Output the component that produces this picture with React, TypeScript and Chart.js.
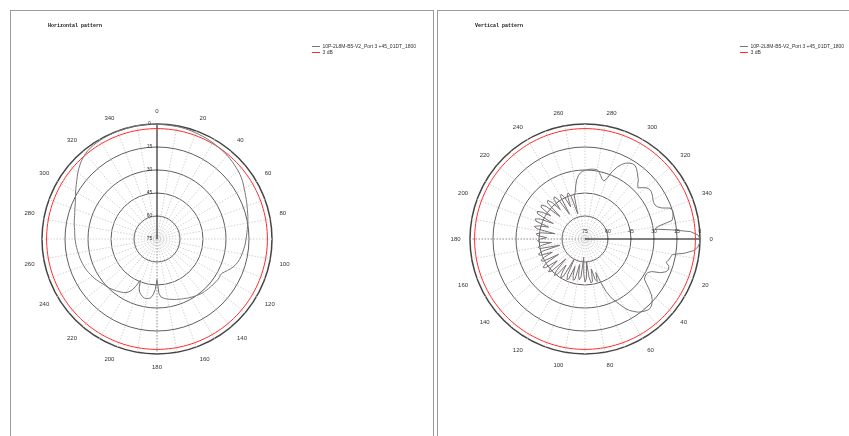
import React, { useEffect, useRef } from 'react';
import { Chart, registerables } from 'chart.js';

Chart.register(...registerables);

const FONT = '"Liberation Sans", Arial, sans-serif';
Chart.defaults.font.family = FONT;

// Angle categories (degrees, 2° resolution)
const angles = [0,2,4,6,8,10,12,14,16,18,20,22,24,26,28,30,32,34,36,38,40,42,44,46,48,50,52,54,56,58,60,62,64,66,68,70,72,74,76,78,80,82,84,86,88,90,92,94,96,98,100,102,104,106,108,110,112,114,116,118,120,122,124,126,128,130,132,134,136,138,140,142,144,146,148,150,152,154,156,158,160,162,164,166,168,170,172,174,176,178,180,182,184,186,188,190,192,194,196,198,200,202,204,206,208,210,212,214,216,218,220,222,224,226,228,230,232,234,236,238,240,242,244,246,248,250,252,254,256,258,260,262,264,266,268,270,272,274,276,278,280,282,284,286,288,290,292,294,296,298,300,302,304,306,308,310,312,314,316,318,320,322,324,326,328,330,332,334,336,338,340,342,344,346,348,350,352,354,356,358];

// Attenuation below peak (dB)
const horizontalAttenuation = [
  0.3,0.3,0.3,0.4,0.5,0.5,0.6,0.7,0.9,1.1,
  1.3,1.5,1.7,1.9,2.2,2.4,2.7,3.0,3.3,3.6,
  3.8,4.2,4.6,5.0,5.5,5.9,6.4,7.0,7.7,8.5,
  9.3,10.0,10.7,11.3,11.9,12.5,13.0,13.5,13.9,14.4,
  14.8,15.3,15.8,16.2,16.6,16.9,17.2,17.5,17.9,18.3,
  18.7,19.1,19.6,20.2,21.0,22.0,23.2,24.6,26.0,27.2,
  27.4,27.2,27.3,27.5,27.8,28.0,28.2,28.4,28.6,28.8,
  29.0,29.4,29.8,30.2,30.6,31.0,31.5,32.0,32.4,32.8,
  33.2,33.6,34.0,34.4,34.8,35.2,35.7,36.3,37.0,39.5,
  48.5,42.0,38.5,36.5,35.8,35.6,35.6,36.2,37.2,38.5,
  41.0,46.0,41.5,38.0,36.0,34.6,33.8,33.2,32.7,32.0,
  31.5,31.0,30.5,30.1,29.6,29.2,28.6,28.0,27.4,26.8,
  26.3,25.8,25.3,24.8,24.4,24.1,23.8,23.5,23.2,23.0,
  22.8,22.5,22.3,22.0,21.8,21.5,21.4,21.2,21.0,20.6,
  20.2,19.8,19.5,19.1,18.6,18.0,17.4,16.7,15.8,14.8,
  13.7,12.6,11.5,10.3,9.0,7.6,6.4,5.2,4.1,3.2,
  2.4,1.8,1.4,1.1,0.9,0.7,0.6,0.5,0.4,0.3,
  0.2,0.2,0.1,0.1,0.0,0.0,0.0,0.1,0.1,0.2,
];

const verticalAttenuation = [
  0,0.2,1.2,3.5,9,17,18,18.6,20,17.5,
  17,18,21,26.5,28.5,29,28.8,28.3,25.5,22,
  18.5,16,14.3,13.2,12.9,13.8,14.8,16,18,20,
  23,26.5,30,33,38,44.6,52,46,48,55,
  47,46,50,60,49,47,52,63,50,48,
  51,58,48,47,50,56,47,46,49,60,
  47,45,48,54,46,44,47,57,45,43,
  46,52,43,42,45,55,44,43,46,52,
  44,43,46,58,45,44,47,53,45,44,
  46,50,44,43,46,55,43,41,44,50,
  41,40,43,52,40,39,42,48,39.5,39,
  42,53,41,40,43,50,42,41,44,56,
  43,42,45,52,44,43,46,58,46,44,
  40,36,33.5,31.8,30.8,30.2,29.7,29.4,29.2,29.1,
  29.2,30.5,32.5,34.5,35.2,33,27.5,23.8,21,19,
  17.8,17,16.9,18,19.7,21.5,23,25.5,27,25,
  23,22,21.8,22.3,23,23.8,24.3,24.3,23.3,21,
  16,14.9,15.3,15.9,17,26,29,18,6,1.2,
];

const threeDbLevel = 3;
const radialTickLabels = ['75', '60', '45', '30', '15', '0'];
const seriesName = '10P-2L8M-B5-V2_Port 3 +45_01DT_1800';
const referenceName = '3 dB';

const tickLabelPlugin = {
  id: 'axisTickLabels',
  afterDatasetsDraw(chart: any) {
    const scale: any = chart.scales.r;
    const ctx = chart.ctx;
    const a = ((scale.options.startAngle - 90) * Math.PI) / 180;
    const ux = Math.cos(a);
    const uy = Math.sin(a);
    const px = uy;
    const py = -ux;
    const off = 7.5;
    ctx.save();
    ctx.font = `5px ${FONT}`;
    ctx.fillStyle = '#333';
    ctx.textAlign = 'center';
    ctx.textBaseline = 'middle';
    scale.ticks.forEach((t: any) => {
      const d = scale.getDistanceFromCenterForValue(t.value);
      ctx.fillText(String(t.label), scale.xCenter + ux * d + px * off, scale.yCenter + uy * d + py * off);
    });
    ctx.restore();
  },
};

function makeConfig(attenuation: number[], startAngle: number): any {
  return {
    type: 'radar',
    data: {
      labels: angles.map(String),
      datasets: [
        {
          label: seriesName,
          data: attenuation.map((v) => -v),
          borderColor: '#7a7474',
          backgroundColor: 'transparent',
          borderWidth: 1,
          pointRadius: 0,
          fill: false,
        },
        {
          label: referenceName,
          data: angles.map(() => -threeDbLevel),
          borderColor: '#ff2a2a',
          backgroundColor: 'transparent',
          borderWidth: 1,
          pointRadius: 0,
          fill: false,
        },
      ],
    },
    options: {
      responsive: false,
      animation: false,
      events: [],
      layout: { padding: { left: 5, right: 7, top: 43, bottom: 0 } },
      plugins: {
        title: { display: false },
        tooltip: { enabled: false },
        legend: {
          display: true,
          position: 'right',
          align: 'start',
          fullSize: true,
          labels: {
            usePointStyle: true,
            pointStyle: 'line',
            pointStyleWidth: 8,
            boxHeight: 5,
            padding: 1,
            color: '#333',
            font: { size: 5, family: FONT },
          },
        },
      },
      scales: {
        r: {
          min: -75,
          max: 0,
          startAngle,
          angleLines: {
            display: true,
            color: (c: any) => {
              const ang = angles[c.index];
              if (ang === 0) return '#000';
              if (ang === 180) return '#8a8a8a';
              return '#d2d2d2';
            },
            lineWidth: (c: any) => (angles[c.index] % 10 === 0 ? 1 : 0),
            borderDash: (c: any) => (angles[c.index] === 0 ? [] : [1.5, 1.5]),
          },
          grid: {
            circular: true,
            color: (c: any) => (c.tick && c.tick.value === 0 ? '#444' : '#5e5e5e'),
            lineWidth: (c: any) => (c.tick && c.tick.value === 0 ? 1.5 : 1),
          },
          ticks: {
            display: true,
            stepSize: 15,
            color: 'transparent',
            font: { size: 5, family: FONT },
            showLabelBackdrop: false,
            backdropPadding: { top: 35, bottom: 35, left: 0, right: 0 },
            callback: (_v: any, i: number) => radialTickLabels[i],
          },
          pointLabels: {
            display: true,
            color: '#333',
            font: { size: 6, family: FONT },
            padding: -28.1,
            callback: (label: string) => (Number(label) % 20 === 0 ? label : ''),
          },
        },
      },
    },
    plugins: [tickLabelPlugin],
  };
}

function PolarPattern({ attenuation, startAngle, left }: { attenuation: number[]; startAngle: number; left: number }) {
  const ref = useRef<HTMLCanvasElement>(null);
  useEffect(() => {
    const chart = new Chart(ref.current as HTMLCanvasElement, makeConfig(attenuation, startAngle));
    return () => chart.destroy();
  }, []);
  return (
    <canvas
      ref={ref}
      width={433}
      height={436}
      style={{ position: 'absolute', left, top: 0, width: 433, height: 436 }}
    />
  );
}

const titleStyle: React.CSSProperties = {
  position: 'absolute',
  top: 23,
  font: 'bold 5px "Liberation Mono", "Courier New", monospace',
  lineHeight: '6px',
  color: '#111',
  whiteSpace: 'nowrap',
};

export default function App() {
  return (
    <div style={{ position: 'fixed', left: 0, top: 0, width: 849, height: 436, overflow: 'hidden', background: '#fff' }}>
      <PolarPattern attenuation={horizontalAttenuation} startAngle={0} left={0} />
      <PolarPattern attenuation={verticalAttenuation} startAngle={90} left={428} />
      <div style={{ position: 'absolute', left: 10, top: 10, width: 422, height: 500, border: '1px solid #9a9a9a', pointerEvents: 'none' }} />
      <div style={{ position: 'absolute', left: 437, top: 10, width: 500, height: 500, border: '1px solid #9a9a9a', pointerEvents: 'none' }} />
      <div style={{ ...titleStyle, left: 48 }}>Horizontal pattern</div>
      <div style={{ ...titleStyle, left: 475 }}>Vertical pattern</div>
    </div>
  );
}
